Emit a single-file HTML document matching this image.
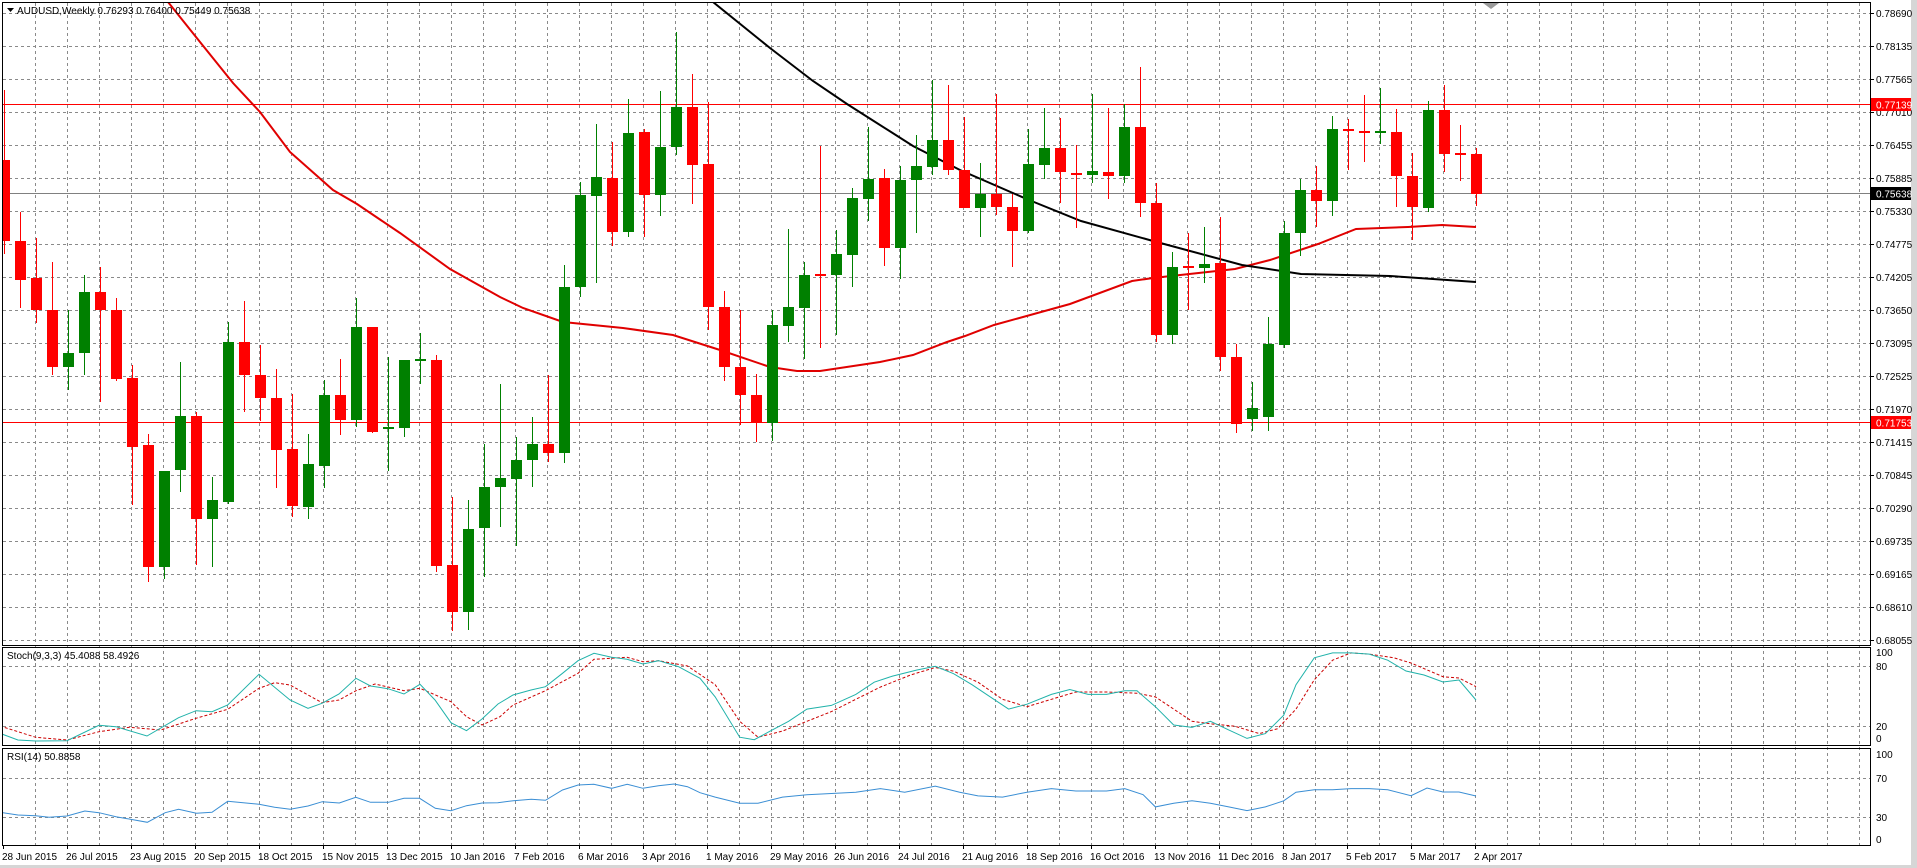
<!DOCTYPE html>
<html><head><meta charset="utf-8"><style>
html,body{margin:0;padding:0;background:#fff;overflow:hidden}
svg{display:block}
text{font-family:"Liberation Sans","DejaVu Sans",sans-serif;font-size:10px;fill:#000}
</style></head><body>
<svg width="1917" height="868" viewBox="0 0 1917 868" xmlns="http://www.w3.org/2000/svg">
<rect x="0" y="0" width="1917" height="868" fill="#fff"/>
<rect x="1911" y="0" width="6" height="868" fill="#d6d6d6"/>
<rect x="0" y="865" width="1917" height="3" fill="#d6d6d6"/>
<defs>
<clipPath id="cm"><rect x="3" y="3" width="1867" height="642"/></clipPath>
<clipPath id="cs"><rect x="3" y="648" width="1867" height="97"/></clipPath>
<clipPath id="cr"><rect x="3" y="749" width="1867" height="96"/></clipPath>
</defs>
<!-- grid -->
<g stroke="#8a8a8a" stroke-width="1" stroke-dasharray="3,3" fill="none" id="grid">
<path d="M35.5 3V845M67.5 3V845M99.5 3V845M131.5 3V845M163.5 3V845M195.5 3V845M227.5 3V845M259.5 3V845M291.5 3V845M323.5 3V845M355.5 3V845M387.5 3V845M419.5 3V845M451.5 3V845M483.5 3V845M515.5 3V845M547.5 3V845M579.5 3V845M611.5 3V845M643.5 3V845M675.5 3V845M707.5 3V845M739.5 3V845M771.5 3V845M803.5 3V845M835.5 3V845M867.5 3V845M899.5 3V845M931.5 3V845M963.5 3V845M995.5 3V845M1027.5 3V845M1059.5 3V845M1091.5 3V845M1123.5 3V845M1155.5 3V845M1187.5 3V845M1219.5 3V845M1251.5 3V845M1283.5 3V845M1315.5 3V845M1347.5 3V845M1379.5 3V845M1411.5 3V845M1443.5 3V845M1475.5 3V845M1507.5 3V845M1539.5 3V845M1571.5 3V845M1603.5 3V845M1635.5 3V845M1667.5 3V845M1699.5 3V845M1731.5 3V845M1763.5 3V845M1795.5 3V845M1827.5 3V845M1859.5 3V845"/>
<path d="M3 13.5H1870M3 46.5H1870M3 79.5H1870M3 112.5H1870M3 145.5H1870M3 178.5H1870M3 211.5H1870M3 244.5H1870M3 277.5H1870M3 310.5H1870M3 343.5H1870M3 376.5H1870M3 409.5H1870M3 442.5H1870M3 475.5H1870M3 508.5H1870M3 541.5H1870M3 574.5H1870M3 607.5H1870M3 640.5H1870"/>
<path d="M3 666.5H1870M3 726.5H1870M3 778.5H1870M3 817.5H1870"/>
</g>
<!-- horizontal lines -->
<path d="M3 104.5H1870M3 422.5H1870" stroke="#ff0000" stroke-width="1"/>
<path d="M3 193.5H1870" stroke="#808080" stroke-width="1"/>
<g clip-path="url(#cm)">
<!-- MAs -->
<polyline fill="none" stroke="#e00000" stroke-width="2" points="168,2 200,42 233,83 260,112 290,152 333,190 357,204 400,233 450,269 500,297 523,308 563,322 623,328 673,335 720,350 770,367 797,371 820,371 880,362 913,355 947,342 965,336 994,325 1070,304 1132,281 1153,278 1235,269 1270,260 1318,244 1356,229 1408,227 1442,225 1476,227"/>
<polyline fill="none" stroke="#000" stroke-width="2" points="713,2 770,48 813,81 847,104 913,146 960,170 1029,200 1081,221 1153,241 1242,265 1301,274 1390,276 1476,282"/>
<!-- wicks -->
<path stroke="#ff0000" stroke-width="1" fill="none" d="M4.5 90V254M20.5 212V308M36.5 238V323M52.5 262V375M100.5 267V402M116.5 298V381M132.5 365V505M148.5 434V582M196.5 412V565M244.5 301V412M260.5 345V421M276.5 369V488M292.5 394V517M340.5 359V435M372.5 327V433M436.5 355V572M452.5 497V631M548.5 375V462M612.5 142V246M644.5 129V237M692.5 74V204M708.5 102V330M724.5 291V381M740.5 310V425M756.5 374V442M820.5 146V348M884.5 169V266M948.5 85V175M964.5 117V208M996.5 94V215M1012.5 194V267M1060.5 118V203M1076.5 145V228M1108.5 108V199M1140.5 67V217M1156.5 183V342M1188.5 233V310M1220.5 217V371M1236.5 344V433M1316.5 166V227M1348.5 119V170M1364.5 95V162M1396.5 109V207M1412.5 153V240M1444.5 85V172M1460.5 125V181M1476.5 148V206"/>
<path stroke="#008000" stroke-width="1" fill="none" d="M68.5 310V390M84.5 275V375M164.5 471V579M180.5 362V492M212.5 477V567M228.5 322V504M308.5 434V519M324.5 380V488M356.5 298V427M388.5 357V471M404.5 360V437M420.5 333V384M468.5 500V630M484.5 444V577M500.5 384V527M516.5 437V546M532.5 417V487M564.5 265V463M580.5 182V297M596.5 124V283M628.5 99V237M660.5 91V216M676.5 32V155M772.5 310V441M788.5 229V342M804.5 262V359M836.5 230V335M852.5 188V287M868.5 127V221M900.5 166V279M916.5 135V233M932.5 80V175M980.5 163V237M1028.5 129V233M1044.5 108V179M1092.5 94V183M1124.5 104V183M1172.5 252V344M1204.5 227V283M1252.5 382V431M1268.5 317V431M1284.5 221V348M1300.5 179V256M1332.5 116V216M1380.5 88V144M1428.5 101V212"/>
<!-- bodies -->
<path fill="#ff0000" d="M-1 160H10V241H-1ZM15 241H26V280H15ZM31 278H42V310H31ZM47 310H58V367H47ZM95 292H106V310H95ZM111 310H122V379H111ZM127 378H138V447H127ZM143 445H154V567H143ZM191 416H202V519H191ZM239 342H250V375H239ZM255 375H266V398H255ZM271 398H282V450H271ZM287 449H298V506H287ZM335 395H346V420H335ZM367 327H378V432H367ZM431 360H442V566H431ZM447 565H458V612H447ZM543 444H554V453H543ZM607 178H618V232H607ZM639 132H650V195H639ZM687 107H698V165H687ZM703 164H714V307H703ZM719 307H730V367H719ZM735 367H746V395H735ZM751 395H762V423H751ZM815 274H826V276H815ZM879 178H890V248H879ZM943 140H954V170H943ZM959 170H970V208H959ZM991 194H1002V207H991ZM1007 207H1018V231H1007ZM1055 148H1066V172H1055ZM1071 173H1082V175H1071ZM1103 172H1114V176H1103ZM1135 127H1146V203H1135ZM1151 203H1162V335H1151ZM1183 266H1194V268H1183ZM1215 263H1226V357H1215ZM1231 357H1242V424H1231ZM1311 190H1322V201H1311ZM1343 129H1354V131H1343ZM1359 131H1370V133H1359ZM1391 132H1402V176H1391ZM1407 176H1418V207H1407ZM1439 110H1450V154H1439ZM1455 153H1466V155H1455ZM1471 154H1482V194H1471Z"/>
<path fill="#008000" d="M63 353H74V367H63ZM79 292H90V353H79ZM159 471H170V567H159ZM175 416H186V470H175ZM207 500H218V519H207ZM223 342H234V502H223ZM303 464H314V507H303ZM319 395H330V466H319ZM351 327H362V420H351ZM383 427H394V429H383ZM399 360H410V428H399ZM415 359H426V361H415ZM463 529H474V612H463ZM479 487H490V528H479ZM495 478H506V487H495ZM511 460H522V479H511ZM527 444H538V460H527ZM559 287H570V453H559ZM575 195H586V287H575ZM591 177H602V196H591ZM623 133H634V232H623ZM655 147H666V195H655ZM671 107H682V147H671ZM767 325H778V423H767ZM783 307H794V326H783ZM799 275H810V308H799ZM831 254H842V275H831ZM847 198H858V255H847ZM863 179H874V199H863ZM895 180H906V248H895ZM911 166H922V180H911ZM927 140H938V167H927ZM975 194H986V208H975ZM1023 164H1034V231H1023ZM1039 148H1050V165H1039ZM1087 171H1098V175H1087ZM1119 127H1130V176H1119ZM1167 267H1178V335H1167ZM1199 264H1210V268H1199ZM1247 408H1258V419H1247ZM1263 344H1274V417H1263ZM1279 233H1290V345H1279ZM1295 190H1306V233H1295ZM1327 129H1338V201H1327ZM1375 131H1386V133H1375ZM1423 110H1434V208H1423Z"/>
</g>
<!-- stochastic -->
<g clip-path="url(#cs)" fill="none">
<polyline stroke="#cc0000" stroke-width="1" stroke-dasharray="3,2" points="0,726 35.7,737.3 67,740 99,731.7 129.5,727.3 160.7,730 196,718.3 227.7,709.3 259,688.3 274.6,682.7 290,685 322,702.7 339,700 356,690.7 375,684 404,690.7 420,688.3 451,701.7 466.5,716.7 482,725 500,716.7 513,705 545.5,690.7 578,673.3 594,659.3 627,657.3 643,661.7 658.5,660.7 687.5,666 715.2,684.7 739.7,721.3 758,737.2 782.5,731.1 806.9,721.3 831.4,711.6 855.8,699.3 880.3,687.1 910.8,674.9 935.3,667.5 953.6,671.2 978,682.2 1002.5,699.3 1027,706.7 1051.4,699.3 1075.9,692 1106.5,692 1137,693.2 1155.4,696.9 1173.7,709.1 1192,721.3 1210.4,723.8 1234.8,726.2 1259.3,733.6 1277.6,728.7 1296,709.1 1314.3,679.8 1332.6,660.2 1351,652.9 1369.3,654.1 1393.8,657.8 1411,663 1443,676.7 1459,678 1476,686.7"/>
<polyline stroke="#20b2aa" stroke-width="1" points="0,733.3 17.9,740 35.7,741 67,740.7 99,725.3 116,726.7 147,736 178.6,717.7 196,710.7 212,711.7 227.7,705 259,674.3 290,700 308,708.3 322,703.3 339,694 356,678.3 370.5,686 388,688.7 404,694 420,684.3 435,700 451,722.7 466.5,730.7 482,719 498,704 513,695 531,690 545.5,686.7 562.5,673.3 578,660.7 594,653.3 611.6,657.3 627,659.3 643,664 658.5,660.7 678.6,666.7 700,678.3 715.2,696.9 739.7,737.2 754.3,739.7 770.2,731.1 788.6,721.3 806.9,709.1 831.4,705.4 855.8,694.4 874.2,682.2 892.5,676.1 917,670 935.3,666.3 953.6,673.7 972,684.7 990.3,696.9 1008.6,709.1 1027,704.2 1051.4,694.4 1069.8,689.5 1088.1,694.4 1106.5,694.4 1124.8,690.8 1137,690.8 1155.4,706.7 1173.7,725 1192,727.4 1210.4,721.3 1228.7,729.9 1247,738.4 1265.4,733.6 1283.7,715.2 1296,684.7 1314.3,657.8 1332.6,652.9 1351,652.9 1369.3,654.1 1387.7,660.2 1406,671 1424,675 1443,682 1459,680 1476,700"/>
</g>
<!-- RSI -->
<g clip-path="url(#cr)" fill="none">
<polyline stroke="#3a8ed4" stroke-width="1" points="0,812.3 17.9,815 35.7,815.7 49.1,817.3 67,816 84.8,811 99,812.7 116,816.7 147.3,822.3 165.2,812.7 178.6,809.3 196.4,813.3 212,812.3 227.7,801.3 243.3,802.7 259,804.3 274.6,807.3 290.2,809.3 308,806 322.3,801.7 339.3,803 355.8,797.3 370.5,802.3 388.4,802.3 404,798.3 419.6,798.3 435.3,808.3 450.9,810.7 466.5,805.7 482.1,803 497.8,802.7 513.4,800.7 531.3,799.3 545.5,800.3 562.5,790 578.1,785 593.8,784.3 611.6,788.3 627.2,784.3 642.9,788.3 658.5,785.7 674.1,784 687.5,786.7 700,792.7 715.2,797.1 739.7,803.2 758,803.2 782.5,797.1 806.9,794.7 831.4,793.5 855.8,792.2 880.3,788.6 904.7,792.2 935.3,786.1 959.7,792.2 978,795.9 1002.5,797.1 1027,792.2 1051.4,788.6 1075.9,791 1106.5,791 1124.8,788.6 1143.1,794.7 1155.4,806.9 1173.7,803.2 1192,800.8 1210.4,803.2 1228.7,806.9 1247,810.6 1265.4,806.9 1283.7,800.8 1296,792.2 1314.3,789.8 1332.6,789.8 1351,788.6 1369.3,788.6 1387.7,789.8 1411,795.7 1427,788 1443,792 1459,792 1476,796"/>
</g>
<!-- frames -->
<g fill="none" stroke="#000" stroke-width="1">
<rect x="2.5" y="2.5" width="1868" height="643"/>
<rect x="2.5" y="647.5" width="1868" height="98"/>
<rect x="2.5" y="748.5" width="1868" height="97"/>
</g>
<path d="M1483 3L1499 3L1491 9Z" fill="#9a9a9a"/>
<!-- axis ticks -->
<path stroke="#000" stroke-width="1" d="M1870 13.5h4M1870 46.5h4M1870 79.5h4M1870 112.5h4M1870 145.5h4M1870 178.5h4M1870 211.5h4M1870 244.5h4M1870 277.5h4M1870 310.5h4M1870 343.5h4M1870 376.5h4M1870 409.5h4M1870 442.5h4M1870 475.5h4M1870 508.5h4M1870 541.5h4M1870 574.5h4M1870 607.5h4M1870 640.5h4M3.5 845v4M67.5 845v4M131.5 845v4M195.5 845v4M259.5 845v4M323.5 845v4M387.5 845v4M451.5 845v4M515.5 845v4M579.5 845v4M643.5 845v4M707.5 845v4M771.5 845v4M835.5 845v4M899.5 845v4M963.5 845v4M1027.5 845v4M1091.5 845v4M1155.5 845v4M1219.5 845v4M1283.5 845v4M1347.5 845v4M1411.5 845v4M1475.5 845v4"/>
<g>
<text x="1876" y="17">0.78690</text>
<text x="1876" y="50">0.78135</text>
<text x="1876" y="83">0.77565</text>
<text x="1876" y="116">0.77010</text>
<text x="1876" y="149">0.76455</text>
<text x="1876" y="182">0.75885</text>
<text x="1876" y="215">0.75330</text>
<text x="1876" y="248">0.74775</text>
<text x="1876" y="281">0.74205</text>
<text x="1876" y="314">0.73650</text>
<text x="1876" y="347">0.73095</text>
<text x="1876" y="380">0.72525</text>
<text x="1876" y="413">0.71970</text>
<text x="1876" y="446">0.71415</text>
<text x="1876" y="479">0.70845</text>
<text x="1876" y="512">0.70290</text>
<text x="1876" y="545">0.69735</text>
<text x="1876" y="578">0.69165</text>
<text x="1876" y="611">0.68610</text>
<text x="1876" y="644">0.68055</text>
</g>
<rect x="1871" y="98" width="40" height="13" fill="#ff0000"/>
<text x="1876" y="108.5" style="fill:#fff">0.77139</text>
<rect x="1871" y="187" width="40" height="13" fill="#000"/>
<text x="1876" y="197.5" style="fill:#fff">0.75638</text>
<rect x="1871" y="416" width="40" height="13" fill="#ff0000"/>
<text x="1876" y="426.5" style="fill:#fff">0.71753</text>
<text x="1876" y="656">100</text>
<text x="1876" y="670">80</text>
<text x="1876" y="730">20</text>
<text x="1876" y="742">0</text>
<text x="1876" y="758">100</text>
<text x="1876" y="782">70</text>
<text x="1876" y="821">30</text>
<text x="1876" y="843">0</text>
<path d="M7 8h7l-3.5 4z" fill="#000"/>
<text x="17" y="14">AUDUSD,Weekly  0.76293 0.76400 0.75449 0.75638</text>
<text x="7" y="659">Stoch(9,3,3) 45.4088 58.4926</text>
<text x="7" y="760">RSI(14) 50.8858</text>
<g>
<text x="2" y="860">28 Jun 2015</text>
<text x="66" y="860">26 Jul 2015</text>
<text x="130" y="860">23 Aug 2015</text>
<text x="194" y="860">20 Sep 2015</text>
<text x="258" y="860">18 Oct 2015</text>
<text x="322" y="860">15 Nov 2015</text>
<text x="386" y="860">13 Dec 2015</text>
<text x="450" y="860">10 Jan 2016</text>
<text x="514" y="860">7 Feb 2016</text>
<text x="578" y="860">6 Mar 2016</text>
<text x="642" y="860">3 Apr 2016</text>
<text x="706" y="860">1 May 2016</text>
<text x="770" y="860">29 May 2016</text>
<text x="834" y="860">26 Jun 2016</text>
<text x="898" y="860">24 Jul 2016</text>
<text x="962" y="860">21 Aug 2016</text>
<text x="1026" y="860">18 Sep 2016</text>
<text x="1090" y="860">16 Oct 2016</text>
<text x="1154" y="860">13 Nov 2016</text>
<text x="1218" y="860">11 Dec 2016</text>
<text x="1282" y="860">8 Jan 2017</text>
<text x="1346" y="860">5 Feb 2017</text>
<text x="1410" y="860">5 Mar 2017</text>
<text x="1474" y="860">2 Apr 2017</text>
</g>
</svg>
</body></html>
